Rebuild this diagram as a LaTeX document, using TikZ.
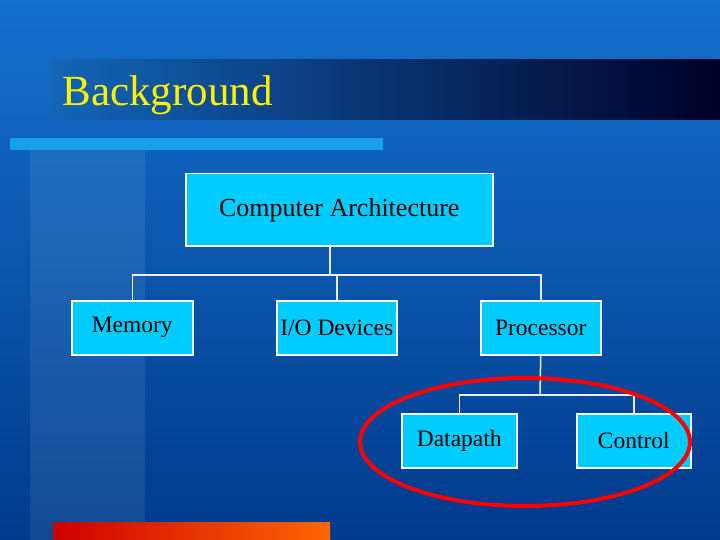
\documentclass[tikz,border=0pt]{standalone}
\usepackage{fontspec}
\setmainfont{Liberation Serif}
\definecolor{bgtop}{HTML}{1470CC}
\definecolor{bgbot}{HTML}{003A8C}
\definecolor{boxc}{HTML}{00CCFF}
\definecolor{barc}{HTML}{1AA0E8}
\begin{document}
\begin{tikzpicture}[x=1pt,y=-1pt,
  box/.style={draw=white,line width=1.5pt,fill=boxc,text=black,font=\fontsize{23.5}{26}\selectfont,anchor=north west,inner sep=0pt},
  conn/.style={draw=white!85!gray,line width=1.5pt}]
\useasboundingbox (0,0) rectangle (720,540);
\shade[top color=bgtop, bottom color=bgbot] (0,0) rectangle (720,540);
\fill[white,opacity=0.08] (30,150) rectangle (145,540);
\shade[left color=bgtop!90!black, right color=black!85!blue] (50,60) rectangle (720,120);
\node[anchor=west,text=yellow,font=\fontsize{43}{46}\selectfont] (title) at (59,95) {Background};
\fill[barc] (10,138) rectangle (383,150);
\shade[left color=red!80!black, right color=orange!80!red] (53,522) rectangle (330,540);
\node[box,minimum width=307pt,minimum height=72pt,font=\fontsize{26}{28}\selectfont] (ca) at (185,173) {Computer Architecture};
\node[box,minimum width=121pt,minimum height=54pt] (mem) at (71,300) {Memory};
\node[box,minimum width=120pt,minimum height=54pt] (io) at (276,300) {I/O Devices};
\node[box,minimum width=120pt,minimum height=54pt] (proc) at (480,300) {Processor};
\node[box,minimum width=115pt,minimum height=54pt] (dp) at (401,413) {Datapath};
\node[box,minimum width=114pt,minimum height=54pt] (ctl) at (576,413) {Control};
\coordinate (h1) at (330,275);
\draw[conn] (ca.south -| h1) -- (h1);
\draw[conn] (mem.north) |- (h1) -| (proc.north);
\draw[conn] (io.north) -- (io.north |- h1);
\coordinate (h2) at (540,395);
\draw[conn] (proc.south) -- (h2);
\draw[conn] (dp.north) |- (h2) -| (ctl.north);
\draw[red,line width=4pt] (525,442) ellipse [x radius=165, y radius=64];
\end{tikzpicture}
\end{document}
